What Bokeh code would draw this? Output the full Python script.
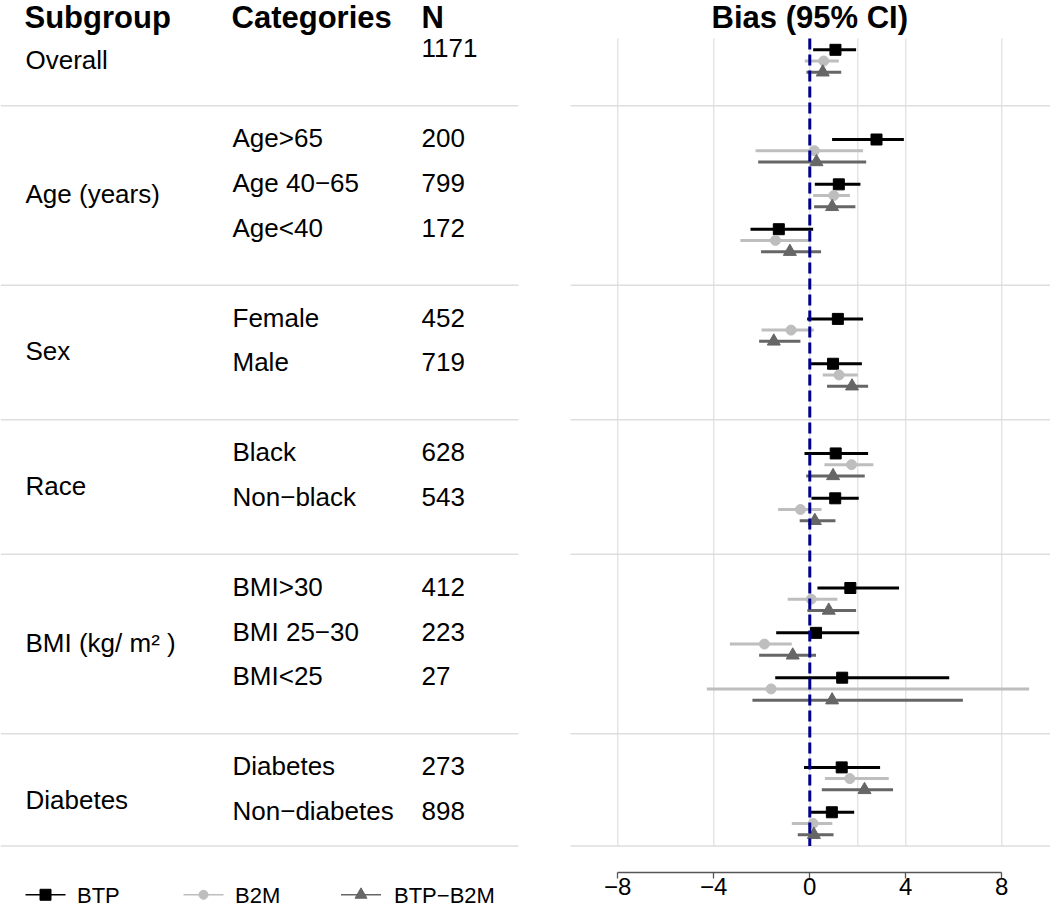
from bokeh.plotting import figure
from bokeh.layouts import row
from bokeh.models import Range1d, FixedTicker
from bokeh.core.properties import value
from bokeh.embed import file_html
from bokeh.resources import INLINE

# ---------------- data ----------------
headers = ["Subgroup", "Categories", "N"]
plot_title = "Bias (95% CI)"
subgroups = ["Overall", "Age (years)", "Sex", "Race", "BMI (kg/ m\u00b2 )", "Diabetes"]
group_sizes = [1, 3, 2, 2, 3, 2]
categories = ["", "Age>65", "Age 40\u221265", "Age<40", "Female", "Male",
              "Black", "Non\u2212black", "BMI>30", "BMI 25\u221230", "BMI<25",
              "Diabetes", "Non\u2212diabetes"]
n_values = [1171, 200, 799, 172, 452, 719, 628, 543, 412, 223, 27, 273, 898]

series_names = ["BTP", "B2M", "BTP\u2212B2M"]

btp_est = [1.07, 2.78, 1.21, -1.29, 1.17, 0.97, 1.08, 1.06, 1.69, 0.26, 1.35, 1.33, 0.92]
btp_lo = [0.14, 0.93, 0.21, -2.47, -0.11, -0.01, -0.22, 0.07, 0.32, -1.40, -1.44, -0.24, 0.04]
btp_hi = [1.93, 3.92, 2.11, 0.14, 2.22, 2.17, 2.43, 2.04, 3.72, 2.06, 5.81, 2.93, 1.85]

b2m_est = [0.58, 0.19, 1.00, -1.43, -0.78, 1.22, 1.74, -0.39, 0.06, -1.89, -1.61, 1.67, 0.14]
b2m_lo = [-0.21, -2.26, 0.14, -2.89, -2.01, 0.54, 0.61, -1.32, -0.92, -3.33, -4.29, 0.63, -0.75]
b2m_hi = [1.21, 2.22, 1.67, 0.06, 0.17, 2.00, 2.65, 0.49, 1.15, -0.75, 9.14, 3.29, 0.94]

diff_est = [0.54, 0.28, 0.93, -0.83, -1.50, 1.76, 0.97, 0.21, 0.79, -0.71, 0.93, 2.28, 0.17]
diff_lo = [-0.14, -2.15, 0.18, -2.03, -2.11, 0.72, -0.15, -0.42, -0.10, -2.11, -2.39, 0.50, -0.50]
diff_hi = [1.31, 2.35, 1.90, 0.47, -0.39, 2.43, 2.29, 1.07, 1.93, 0.26, 6.38, 3.47, 0.99]

x_ticks = [-8, -4, 0, 4, 8]
x_tick_labels = ["\u22128", "\u22124", "0", "4", "8"]
grid_x = [-8, -4, 0, 2, 4, 8]
ref_value = 0

# ---------------- layout ----------------
FONT = value("Liberation Sans")
H = 907
W_LEFT, W_RIGHT = 570, 480
ROW_PX, ROW0_PX = 44.85, 49.3
R_TOP = -ROW0_PX / ROW_PX
R_BOT = (H - ROW0_PX) / ROW_PX
MID = -0.03            # text vertical centre relative to its row
HEADER_ROW = -0.71
AXIS_ROW = 18.34
LEG_LINE_ROW = 18.84
LEG_TEXT_ROW = 18.86

# rows for each category
rows, centers, seps = [], [], []
r = 0
for gs in group_sizes:
    start = r
    last = r + gs - 1
    rows.extend(range(start, last + 1))
    centers.append((start + last + 0.5) / 2)
    seps.append(last + 1.25)
    r = last + 2
seps[-1] = rows[-1] + 0.75
panel_top, panel_bot = -0.25, rows[-1] + 0.75

colors = ["#000000", "#BEBEBE", "#666666"]
markers = ["square", "circle", "triangle"]
msizes = [11, 10, 13]
offsets = [0.0, 0.25, 0.5]
series = [(btp_est, btp_lo, btp_hi), (b2m_est, b2m_lo, b2m_hi), (diff_est, diff_lo, diff_hi)]
SEP_COLOR = "#DEDEDE"

# ---------------- left table ----------------
left = figure(width=W_LEFT, height=H, x_range=Range1d(0, 570), y_range=Range1d(R_BOT, R_TOP),
              toolbar_location=None, output_backend="svg", min_border=0,
              x_axis_location=None, y_axis_location=None, outline_line_color=None,
              background_fill_color="white", border_fill_color="white")
left.grid.visible = False

left.segment(x0=0, x1=518, y0=seps, y1=seps, line_color=SEP_COLOR, line_width=1.5)

left.text(x=[24, 231, 421], y=[HEADER_ROW] * 3, text=headers, text_font=FONT,
          text_font_size=value("31px"), text_font_style="bold", text_color="black",
          text_baseline="middle", text_align="left")
left.text(x=[25] * len(subgroups), y=[c + MID for c in centers], text=subgroups,
          text_font=FONT, text_font_size=value("26px"), text_color="black",
          text_baseline="middle", text_align="left")
left.text(x=[232] * len(categories), y=[rr + MID for rr in rows], text=categories,
          text_font=FONT, text_font_size=value("26px"), text_color="black",
          text_baseline="middle", text_align="left")
left.text(x=[421] * len(n_values), y=[rr + MID for rr in rows], text=[str(n) for n in n_values],
          text_font=FONT, text_font_size=value("26px"), text_color="black",
          text_baseline="middle", text_align="left")

# legend
leg_cx = [45, 203, 360.5]
leg_tx = [76.5, 234.5, 393.5]
leg_ms = [11, 9, 12]
for i in range(3):
    left.segment(x0=[leg_cx[i] - 20], x1=[leg_cx[i] + 20], y0=[LEG_LINE_ROW], y1=[LEG_LINE_ROW],
                 line_color=colors[i], line_width=1.3)
    left.scatter(x=[leg_cx[i]], y=[LEG_LINE_ROW], marker=markers[i], size=leg_ms[i],
                 fill_color=colors[i], line_color=colors[i])
left.text(x=leg_tx, y=[LEG_TEXT_ROW] * 3, text=series_names, text_font=FONT,
          text_font_size=value("22px"), text_color="black", text_baseline="middle")

# ---------------- right forest plot ----------------
right = figure(width=W_RIGHT, height=H, x_range=Range1d(-9.97, -9.97 + W_RIGHT / 24.0),
               y_range=Range1d(R_BOT, R_TOP), toolbar_location=None, output_backend="svg",
               min_border=0, y_axis_location=None, outline_line_color=None,
               background_fill_color="white", border_fill_color="white")
right.grid.visible = False

right.segment(x0=grid_x, x1=grid_x, y0=[panel_top] * len(grid_x), y1=[panel_bot] * len(grid_x),
              line_color=SEP_COLOR, line_width=1.2)
right.segment(x0=-20, x1=20, y0=seps, y1=seps, line_color=SEP_COLOR, line_width=1.5)

for (est, lo, hi), c, m, s, off in zip(series, colors, markers, msizes, offsets):
    ys = [rr + off for rr in rows]
    right.segment(x0=lo, x1=hi, y0=ys, y1=ys, line_color=c, line_width=3)
    right.scatter(x=est, y=ys, marker=m, size=s, fill_color=c, line_color=c)

right.segment(x0=[ref_value], x1=[ref_value], y0=[panel_top], y1=[panel_bot],
              line_color="#00008B", line_width=3, line_dash="11 5")

right.text(x=[0.0], y=[HEADER_ROW], text=[plot_title], text_font=FONT,
           text_font_size=value("31px"), text_font_style="bold", text_color="black",
           text_baseline="middle", text_align="center")

ax = right.xaxis[0]
ax.fixed_location = AXIS_ROW
ax.bounds = (-8, 8)
ax.ticker = FixedTicker(ticks=x_ticks, minor_ticks=[])
ax.major_label_overrides = dict(zip(x_ticks, x_tick_labels))
ax.axis_line_color = "#555555"
ax.axis_line_width = 1.3
ax.major_tick_line_color = "#555555"
ax.major_tick_line_width = 1.3
ax.major_tick_in = 0
ax.major_tick_out = 6
ax.minor_tick_line_color = None
ax.major_label_standoff = 0
ax.major_label_text_font = "Liberation Sans"
ax.major_label_text_font_size = "24px"
ax.major_label_text_color = "black"

layout = row(left, right, spacing=0)
open("out.html", "w").write(file_html(layout, INLINE))
